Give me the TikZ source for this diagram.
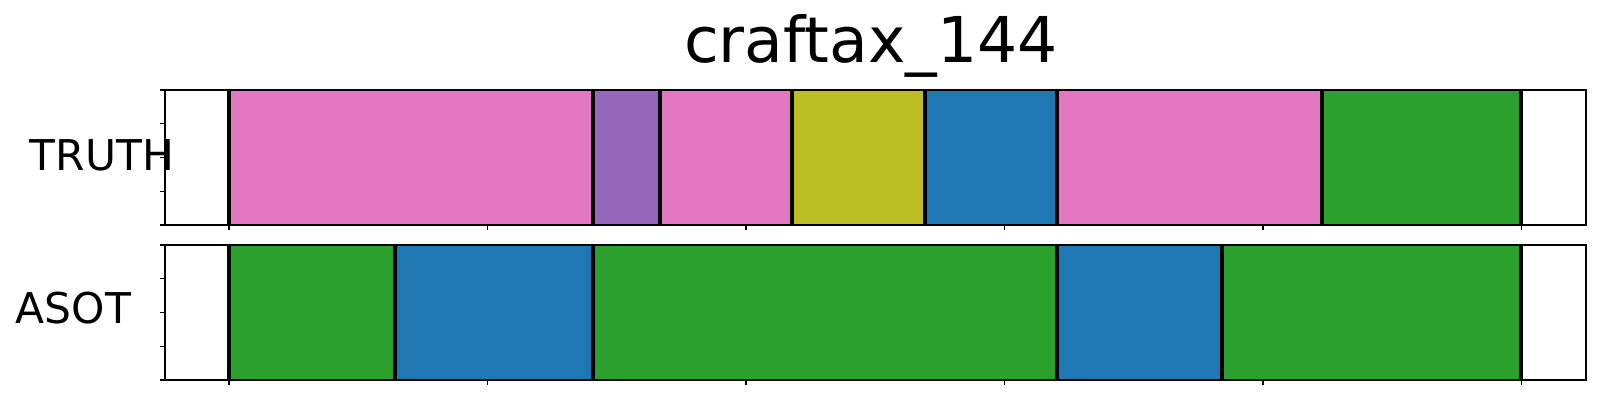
\documentclass[tikz,border=0pt]{standalone}
\usepackage{fontspec}
\setmainfont{DejaVu Sans}
\definecolor{tabpink}{HTML}{E377C2}
\definecolor{tabpurple}{HTML}{9467BD}
\definecolor{tabolive}{HTML}{BCBD22}
\definecolor{tabblue}{HTML}{1F77B4}
\definecolor{tabgreen}{HTML}{2CA02C}
\begin{document}
\begin{tikzpicture}[x=0.25pt, y=-0.25pt,
                    cut/.style = {line width=1pt},
                    frame/.style = {line width=0.3pt},
                    label/.style = {inner sep=0pt, font=\fontsize{10.6}{12}\selectfont}]
    \useasboundingbox (0,0) rectangle (1600,400);
    \node [anchor=base, inner sep=0pt, font=\fontsize{15.8}{18}\selectfont] (title) at (871,62) {craftax\_144};

    % TRUTH row
    \foreach \a/\b/\c in {229/592.5/tabpink, 592.5/659.5/tabpurple, 659.5/791.5/tabpink,
                          791.5/924.5/tabolive, 924.5/1057/tabblue, 1057/1322/tabpink,
                          1322/1520.5/tabgreen}
        \fill [\c] (\a,90) rectangle (\b,225);
    \foreach \x in {229,592.5,659.5,791.5,924.5,1057,1322,1520.5}
        \draw [cut] (\x,90) -- (\x,225);
    \draw [frame] (165,90) rectangle (1586,225);
    \node [label, anchor=base west] (truth) at (29,170) {TRUTH};

    % ASOT row
    \foreach \a/\b/\c in {229/395/tabgreen, 395/592.5/tabblue, 592.5/1057/tabgreen,
                          1057/1222/tabblue, 1222/1520.5/tabgreen}
        \fill [\c] (\a,245) rectangle (\b,380);
    \foreach \x in {229,395,592.5,1057,1222,1520.5}
        \draw [cut] (\x,245) -- (\x,380);
    \draw [frame] (165,245) rectangle (1586,380);
    \node [label, anchor=base west] (asot) at (15,323) {ASOT};

    % ticks
    \foreach \i in {0,...,5} {
        \draw [frame] (229+258.5*\i,225) -- ++(0,5);
        \draw [frame] (229+258.5*\i,380) -- ++(0,5);
    }
    \foreach \i in {0,...,4} {
        \draw [frame] (165,90+33.75*\i) -- ++(-5,0);
        \draw [frame] (165,245+33.75*\i) -- ++(-5,0);
    }
\end{tikzpicture}
\end{document}
